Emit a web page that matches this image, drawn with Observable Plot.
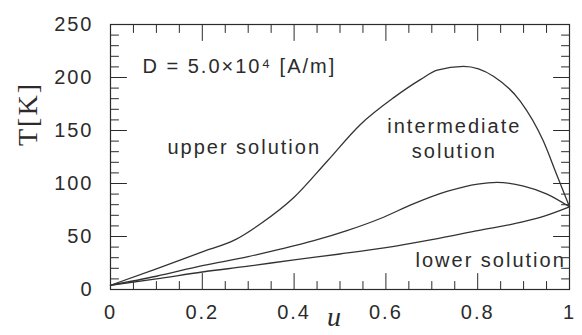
<!DOCTYPE html>
<html><head><meta charset="utf-8">
<script src="https://cdn.jsdelivr.net/npm/d3@7"></script>
<script src="https://cdn.jsdelivr.net/npm/@observablehq/plot@0.6"></script>
<style>
html,body{margin:0;padding:0;background:#fff;}
</style>
</head><body><div id="chart"></div>
<script>
// ---- data ----
const upperU = [0, 0.1, 0.2, 0.272, 0.327, 0.4, 0.472, 0.544, 0.617, 0.675, 0.712, 0.769, 0.835, 0.893, 0.943, 0.972, 1];
const upperT = [4, 19.5, 35.5, 47, 62, 87, 121, 155.5, 181, 198, 207, 210.5, 201, 177.5, 140, 108.5, 78];

const middleU = [0, 0.1, 0.2, 0.3, 0.37, 0.443, 0.515, 0.588, 0.661, 0.733, 0.8, 0.842, 0.9, 0.951, 1];
const middleT = [4, 12.5, 22.5, 31, 38, 46, 55.5, 67, 81, 92.5, 99.5, 101, 97.5, 90, 78];

const lowerU = [0, 0.1, 0.2, 0.3, 0.4, 0.5, 0.6, 0.7, 0.8, 0.9, 0.95, 1];
const lowerT = [4, 10, 16.5, 22, 28, 33.5, 39.5, 47, 55.5, 64, 70, 78];

const xMajor = [0, 0.2, 0.4, 0.6, 0.8, 1];
const xTickLabels = ["0", "0.2", "0.4", "0.6", "0.8", "1"];
const xMinor = [0.05, 0.1, 0.15, 0.25, 0.3, 0.35, 0.45, 0.5, 0.55, 0.65, 0.7, 0.75, 0.85, 0.9, 0.95];
const yMajor = [0, 50, 100, 150, 200, 250];
const yTickLabels = ["0", "50", "100", "150", "200", "250"];
const yMinor = [10, 20, 30, 40, 60, 70, 80, 90, 110, 120, 130, 140, 160, 170, 180, 190, 210, 220, 230, 240];

const noteText = ["D = 5.0×10⁴ [A/m]", "upper solution", "intermediate\nsolution", "lower solution"];
const noteU = [0.0697, 0.124, 0.749, 0.6645];
const noteT = [210, 133.8, 143.7, 27];
const noteAlign = ["start", "start", "middle", "start"];

const xLabel = "u";
const yLabel = "T[K]";

// ---- build tables ----
const series = [
  {name: "upper", u: upperU, T: upperT},
  {name: "middle", u: middleU, T: middleT},
  {name: "lower", u: lowerU, T: lowerT}
];
const rows = series.flatMap(s => s.u.map((u, i) => ({series: s.name, u, T: s.T[i]})));
const notes = noteText.map((text, i) => ({text, u: noteU[i], T: noteT[i], align: noteAlign[i]}));

const ink = "#2b2b2b";
const serif = "'Liberation Serif', 'Times New Roman', serif";

// a plain straight tick shape for vector marks
const tickShape = {draw(context, l) { context.moveTo(0, 0); context.lineTo(0, -l); }};
// inward ticks: bottom (up), top (down), left (right), right (left)
function ticksX(values, yEdge, len, rot) {
  return Plot.vector(values, {x: d => d, y: () => yEdge, length: len, rotate: rot, anchor: "start", shape: tickShape, stroke: ink, strokeWidth: 1});
}
function ticksY(values, xEdge, len, rot) {
  return Plot.vector(values, {x: () => xEdge, y: d => d, length: len, rotate: rot, anchor: "start", shape: tickShape, stroke: ink, strokeWidth: 1});
}

const chart = Plot.plot({
  width: 582,
  height: 335,
  marginLeft: 110,
  marginRight: 13,
  marginTop: 24,
  marginBottom: 46,
  x: {domain: [0, 1]},
  y: {domain: [0, 250]},
  style: {
    fontFamily: "'Liberation Sans', Arial, Helvetica, sans-serif",
    fontSize: "20px",
    letterSpacing: "2px",
    color: ink,
    background: "#fff"
  },
  marks: [
    Plot.frame({fill: "none", stroke: ink, strokeWidth: 1.2}),
    ticksX(xMajor, 0, 16, 0),
    ticksX(xMinor, 0, 8, 0),
    ticksX(xMajor, 250, 16, 180),
    ticksX(xMinor, 250, 8, 180),
    ticksY(yMajor, 0, 16, 90),
    ticksY(yMinor, 0, 8, 90),
    ticksY(yMajor, 1, 16, -90),
    ticksY(yMinor, 1, 8, -90),
    // tick labels
    Plot.axisX(xMajor, {anchor: "bottom", tickSize: 0, tickPadding: 15, tickFormat: (d, i) => xTickLabels[i], label: null}),
    Plot.axisY(yMajor, {anchor: "left", tickSize: 0, tickPadding: 17, tickFormat: (d, i) => yTickLabels[i], label: null}),
    // curves
    Plot.line(rows, {x: "u", y: "T", z: "series", curve: "monotone-x", stroke: "#333", strokeWidth: 1.3}),
    // annotations
    Plot.text(notes.filter(d => d.align === "start"), {x: "u", y: "T", text: "text", textAnchor: "start", fill: ink}),
    Plot.text(notes.filter(d => d.align === "middle"), {x: "u", y: "T", text: "text", textAnchor: "middle", lineHeight: 1.25, fill: ink}),
    // axis titles
    Plot.text([yLabel], {frameAnchor: "left", dx: -82, dy: -11, rotate: -90, fontFamily: serif, fontSize: 28, fill: ink}),
    Plot.text([xLabel], {frameAnchor: "bottom", dx: -5, dy: 36, fontFamily: serif, fontStyle: "italic", fontSize: 28, fill: ink})
  ]
});

document.getElementById("chart").appendChild(chart);
</script>
</body></html>
